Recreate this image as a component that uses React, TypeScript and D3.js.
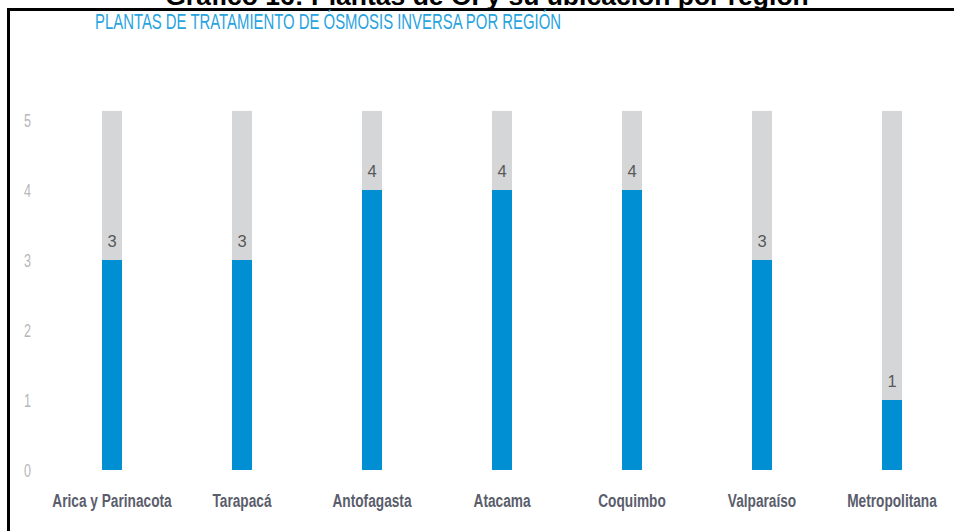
import React from "react";
import * as d3 from "d3";

const regions = [
  "Arica y Parinacota",
  "Tarapacá",
  "Antofagasta",
  "Atacama",
  "Coquimbo",
  "Valparaíso",
  "Metropolitana",
];
const plants = [3, 3, 4, 4, 4, 3, 1];
const yTicks = [0, 1, 2, 3, 4, 5];
// gray track behind each bar reaches a bit past the top tick
const trackValue = 5.13;

const title = "Gráfico 16: Plantas de OI y su ubicación por región";
const subtitle = "PLANTAS DE TRATAMIENTO DE ÓSMOSIS INVERSA POR REGIÓN";

const W = 954;
const H = 531;

function App() {
  const x = d3.scalePoint<string>().domain(regions).range([112, 892]);
  const y = d3.scaleLinear().domain([0, 5]).range([470, 120]);
  const barW = 20;
  const narrow = "Liberation Sans, Arial, sans-serif";

  return (
    <svg
      width={W}
      height={H}
      style={{ position: "absolute", left: 0, top: 0, background: "#fff" }}
    >
      {/* page title, cut off at the top like the source */}
      <text
        x={487}
        y={5}
        textAnchor="middle"
        fontFamily="Liberation Sans, Arial, sans-serif"
        fontWeight="bold"
        fontSize={26.5}
        fill="#000"
      >
        {title}
      </text>

      {/* frame */}
      <line x1={8.5} x2={W} y1={9.5} y2={9.5} stroke="#000" strokeWidth={3} />
      <line x1={8.5} x2={8.5} y1={8} y2={H} stroke="#000" strokeWidth={3} />

      <text
        x={95}
        y={29}
        fontFamily={narrow}
        fontSize={22}
        fill="#27a3df"
        textLength={466}
        lengthAdjust="spacingAndGlyphs"
      >
        {subtitle}
      </text>

      {/* y axis labels */}
      {yTicks.map((t) => (
        <g key={t} transform={`translate(27.5,${y(t) + 6.5}) scale(0.7,1)`}>
          <text textAnchor="middle" fontFamily={narrow} fontSize={18} fill="#b7b7b9">
            {t}
          </text>
        </g>
      ))}

      {regions.map((r, i) => {
        const cx = x(r)!;
        const v = plants[i];
        return (
          <g key={r}>
            <rect
              x={cx - barW / 2}
              y={y(trackValue)}
              width={barW}
              height={y(0) - y(trackValue)}
              fill="#d5d6d8"
            />
            <rect
              x={cx - barW / 2}
              y={y(v)}
              width={barW}
              height={y(0) - y(v)}
              fill="#008fd3"
            />
            <text
              x={cx}
              y={y(v) - 13}
              textAnchor="middle"
              fontFamily="Liberation Sans, Arial, sans-serif"
              fontSize={16.5}
              fill="#595959"
            >
              {v}
            </text>
            <g transform={`translate(${cx},507) scale(0.72,1)`}>
              <text
                textAnchor="middle"
                fontFamily={narrow}
                fontWeight="bold"
                fontSize={19}
                fill="#5a5d6b"
              >
                {r}
              </text>
            </g>
          </g>
        );
      })}
    </svg>
  );
}

export default App;
